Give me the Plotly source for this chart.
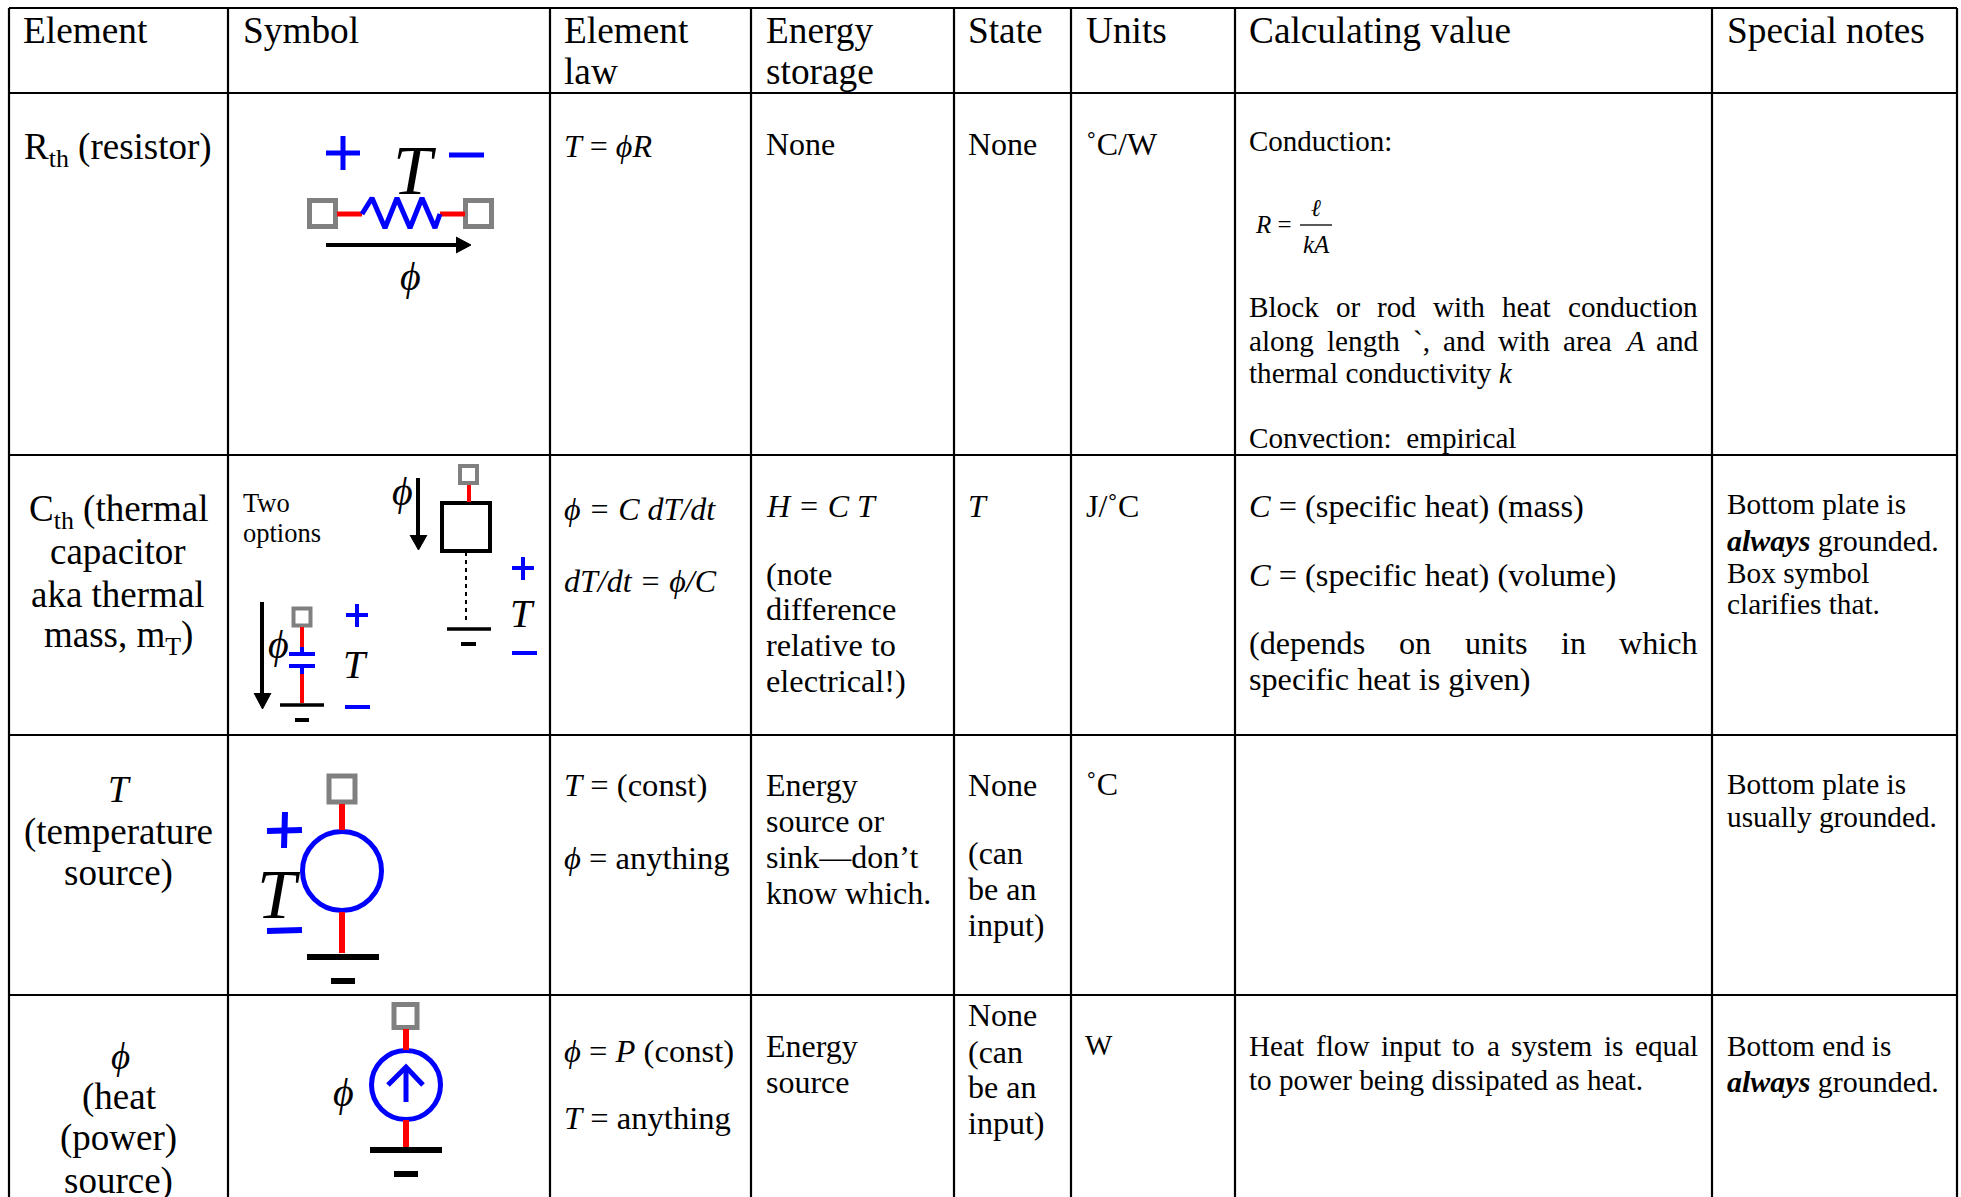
import plotly.graph_objects as go

W, H = 1961, 1197
SERIF = "Liberation Serif"
PHI = "\u03d5"

# table grid
col_lines = [9, 228, 550, 751, 954, 1071, 1235, 1712, 1957]
row_lines = [8, 93, 455, 735, 995]

# (x, y, text, size)
left_text = [
    (243, 30, "Symbol", 37.3), (564, 30, "Element", 37.3), (564, 71, "law", 37.3),
    (766, 30, "Energy", 37.3), (766, 71, "storage", 37.3), (968, 30, "State", 37.3),
    (1086, 30, "Units", 37.3), (1249, 30, "Calculating value", 37.3), (1727, 30, "Special notes", 37.3),
    (23, 30, "Element", 37.3),
    (564, 146, f"<i>T</i> = <i>{PHI}R</i>", 32), (766, 144, "None", 32), (968, 144, "None", 32),
    (1086, 144, "\u02daC/W", 32), (1249, 141, "Conduction:", 29),
    (1255, 224, "<i>R</i> =", 25),
    (1249, 373, "thermal conductivity <i>k</i>", 29.2), (1249, 438, "Convection:  empirical", 29.2),
    (243, 503, "Two", 26.5), (243, 533, "options", 26.5),
    (564, 509, f"<i>{PHI} = C dT/dt</i>", 32), (564, 581, f"<i>dT/dt = {PHI}/C</i>", 32),
    (766, 506, "<i>H = C T</i>", 32), (766, 574, "(note", 32.3), (766, 609, "difference", 32.3),
    (766, 645, "relative to", 32.3), (766, 681, "electrical!)", 32.3),
    (968, 506, "<i>T</i>", 32), (1086, 506, "J/\u02daC", 32),
    (1249, 506, "<i>C</i> = (specific heat) (mass)", 32.4),
    (1249, 575, "<i>C</i> = (specific heat) (volume)", 32.4),
    (1249, 679, "specific heat is given)", 32.2),
    (1727, 504, "Bottom plate is", 29.3), (1727, 540, "<b><i>always</i></b> grounded.", 30),
    (1727, 573, "Box symbol", 29.3), (1727, 604, "clarifies that.", 29.3),
    (564, 785, "<i>T</i> = (const)", 32.6), (564, 858, f"<i>{PHI}</i> = anything", 32.6),
    (766, 785, "Energy", 32), (766, 821, "source or", 32), (766, 857, "sink\u2014don\u2019t", 32),
    (766, 893, "know which.", 32),
    (968, 785, "None", 32), (968, 853, "(can", 32), (968, 889, "be an", 32), (968, 925, "input)", 32),
    (1086, 784, "\u02daC", 32), (1727, 784, "Bottom plate is", 29.3), (1727, 817, "usually grounded.", 29.3),
    (564, 1051, f"<i>{PHI}</i> = <i>P</i> (const)", 32.6), (564, 1118, "<i>T</i> = anything", 32.6),
    (766, 1046, "Energy", 32), (766, 1082, "source", 32),
    (968, 1015, "None", 32), (968, 1052, "(can", 32), (968, 1087, "be an", 32), (968, 1123, "input)", 32),
    (1085, 1045, "W", 29), (1249, 1080, "to power being dissipated as heat.", 29.2),
    (1727, 1046, "Bottom end is", 29.3), (1727, 1081, "<b><i>always</i></b> grounded.", 30),
]
center_text = [
    (118, 149, "R<sub>th</sub> (resistor)", 37),
    (118, 511, "C<sub>th</sub> (thermal", 37), (118, 551, "capacitor", 37),
    (118, 594, "aka thermal", 37), (118, 637, "mass, m<sub>T</sub>)", 37),
    (119, 789, "<i>T</i>", 37), (118, 832, "(temperature", 37), (118, 873, "source)", 37),
    (120, 1056, f"<i>{PHI}</i>", 37), (119, 1097, "(heat", 37), (118, 1138, "(power)", 37), (118, 1181, "source)", 37),
    (1316, 208, "<i>\u2113</i>", 24), (1316, 244, "<i>kA</i>", 25),
    # symbols
    (415, 170, "<i>T</i>", 70), (410, 276, f"<i>{PHI}</i>", 40),
    (402, 491, f"<i>{PHI}</i>", 40), (522, 613, "<i>T</i>", 40),
    (278, 644, f"<i>{PHI}</i>", 40), (355, 664, "<i>T</i>", 40),
    (279, 894, "<i>T</i>", 70), (343, 1092, f"<i>{PHI}</i>", 40),
]
# justified lines: (y, words, size)
justified = [
    (307, ["Block", "or", "rod", "with", "heat", "conduction"], 29.2),
    (341, ["along", "length", "`,", "and", "with", "area", "<i>A</i>", "and"], 29.2),
    (643, ["(depends", "on", "units", "in", "which"], 32.2),
    (1046, ["Heat", "flow", "input", "to", "a", "system", "is", "equal"], 29.2),
]
just_x0, just_x1 = 1249, 1698

# symbol strokes: (xs, ys, colour, width)
RED, BLUE, GRAY, BLACK = "#ff0000", "#0000ff", "#808080", "#000000"
strokes = [
    # resistor
    ([337, 362], [214, 214], RED, 5), ([440, 465], [214, 214], RED, 5),
    ([362, 372, 385, 397, 410, 422, 435, 440], [214, 198, 228, 198, 228, 198, 228, 214], BLUE, 5),
    ([326, 360], [153, 153], BLUE, 5), ([343, 343], [136, 170], BLUE, 5),
    ([449, 484], [155, 155], BLUE, 5), ([326, 460], [245, 245], BLACK, 4),
    # box capacitor
    ([469, 469], [485, 502], RED, 4),
    ([447, 491], [629, 629], BLACK, 3.5), ([461, 476], [644, 644], BLACK, 4),
    ([418, 418], [478, 537], BLACK, 4),
    ([512, 534], [568, 568], BLUE, 4), ([523, 523], [557, 580], BLUE, 4), ([512, 537], [653, 653], BLUE, 4),
    # plate capacitor
    ([302, 302], [627, 647], RED, 4), ([302, 302], [647, 654], BLUE, 4),
    ([289, 315], [654, 654], BLUE, 4), ([289, 315], [666, 666], BLUE, 4),
    ([302, 302], [666, 674], BLUE, 4), ([302, 302], [674, 703], RED, 4),
    ([280, 324], [705, 705], BLACK, 3.5), ([295, 309], [720, 720], BLACK, 4),
    ([262, 262], [602, 695], BLACK, 4),
    ([346, 368], [615, 615], BLUE, 4), ([357, 357], [604, 627], BLUE, 4), ([345, 370], [707, 707], BLUE, 4),
    # temperature source
    ([342, 342], [804, 830], RED, 6), ([342, 342], [912, 953], RED, 6),
    ([307, 379], [957, 957], BLACK, 6), ([331, 355], [981, 981], BLACK, 6),
    ([267, 302], [831, 830], BLUE, 6), ([285, 284], [812, 848], BLUE, 6), ([267, 302], [931, 930], BLUE, 6),
    # heat source
    ([406, 406], [1029, 1050], RED, 6), ([406, 406], [1120, 1153], RED, 6),
    ([370, 442], [1150, 1150], BLACK, 6), ([394, 418], [1174, 1174], BLACK, 6),
    ([406, 406], [1067, 1102], BLUE, 5), ([388, 406, 423], [1085, 1067, 1085], BLUE, 5),
]
dashed = ([466, 466], [552, 623])
# filled arrow heads
heads = [
    ([456, 471, 456], [237, 245, 253]),
    ([410, 418.5, 427], [535, 550, 535]),
    ([254, 262.5, 271], [693, 709, 693]),
]
# (x, y, size, fill, line colour, line width, symbol)
markers = [
    (322.5, 213.5, 26, "white", GRAY, 5, "square"), (478.5, 213.5, 26, "white", GRAY, 5, "square"),
    (468.5, 474.5, 17, "white", GRAY, 4, "square"), (466, 527, 48, "white", BLACK, 4, "square"),
    (302, 617, 17, "white", GRAY, 4, "square"),
    (342, 789, 26, "white", GRAY, 5, "square"), (405.5, 1016, 23, "white", GRAY, 5, "square"),
    (342, 871, 79, "white", BLUE, 5, "circle"), (406, 1085, 69, "white", BLUE, 5, "circle"),
]
frac_bar = ([1300, 1332], [225, 225])

TIMES = dict(zip("abcdefghijklmnopqrstuvwxyz",
                 [.444,.5,.444,.5,.444,.333,.5,.5,.278,.278,.5,.278,.778,.5,.5,.5,.5,.333,.389,.278,.5,.5,.722,.5,.5,.444]))
TIMES.update({"B": .667, "H": .722, "A": .611, "(": .333, ")": .333, "`": .333, ",": .25})

def word_width(word, size):
    plain = word.replace("<i>", "").replace("</i>", "")
    return sum(TIMES.get(c, .5) for c in plain) * size

fig = go.Figure()

def line_trace(xs, ys, colour, width, dash="solid"):
    fig.add_trace(go.Scatter(x=xs, y=ys, mode="lines", hoverinfo="skip", showlegend=False,
                             line=dict(color=colour, width=width, dash=dash)))

for cx in col_lines:
    line_trace([cx, cx], [row_lines[0], H], BLACK, 2.2)
for ry in row_lines:
    line_trace([col_lines[0], col_lines[-1]], [ry, ry], BLACK, 2.2)

for x, y, s, fill, lc, lw, sym in markers:
    fig.add_trace(go.Scatter(x=[x], y=[y], mode="markers", hoverinfo="skip", showlegend=False,
                             marker=dict(symbol=sym, size=s, color=fill, line=dict(color=lc, width=lw))))
for xs, ys in heads:
    fig.add_trace(go.Scatter(x=xs, y=ys, mode="lines", fill="toself", fillcolor=BLACK, hoverinfo="skip",
                             showlegend=False, line=dict(color=BLACK, width=1)))
for xs, ys, c, w in strokes:
    line_trace(xs, ys, c, w)
line_trace(dashed[0], dashed[1], BLACK, 2, "4px,4px")
line_trace(frac_bar[0], frac_bar[1], BLACK, 1.3)

def put(x, y, text, size, anchor):
    fig.add_annotation(x=x, y=y, text=text, showarrow=False, xanchor=anchor, yanchor="middle",
                       xref="x", yref="y", borderpad=0, borderwidth=0,
                       font=dict(family=SERIF, size=size, color="#000000"))

for x, y, t, s in left_text:
    put(x, y, t, s, "left")
for x, y, t, s in center_text:
    put(x, y, t, s, "center")
for y, words, s in justified:
    total = sum(word_width(w, s) for w in words)
    gap = (just_x1 - just_x0 - total) / (len(words) - 1)
    pos = just_x0
    for w in words:
        put(pos, y, w, s, "left")
        pos += word_width(w, s) + gap

fig.update_layout(
    width=W, height=H, margin=dict(l=0, r=0, t=0, b=0), paper_bgcolor="white", plot_bgcolor="white",
    showlegend=False,
    xaxis=dict(range=[0, W], visible=False, fixedrange=True),
    yaxis=dict(range=[H, 0], visible=False, fixedrange=True),
)
fig.write_html("out.html", config={"displayModeBar": False},
               post_script="document.body.style.margin='0px';document.documentElement.style.overflow='hidden';")
